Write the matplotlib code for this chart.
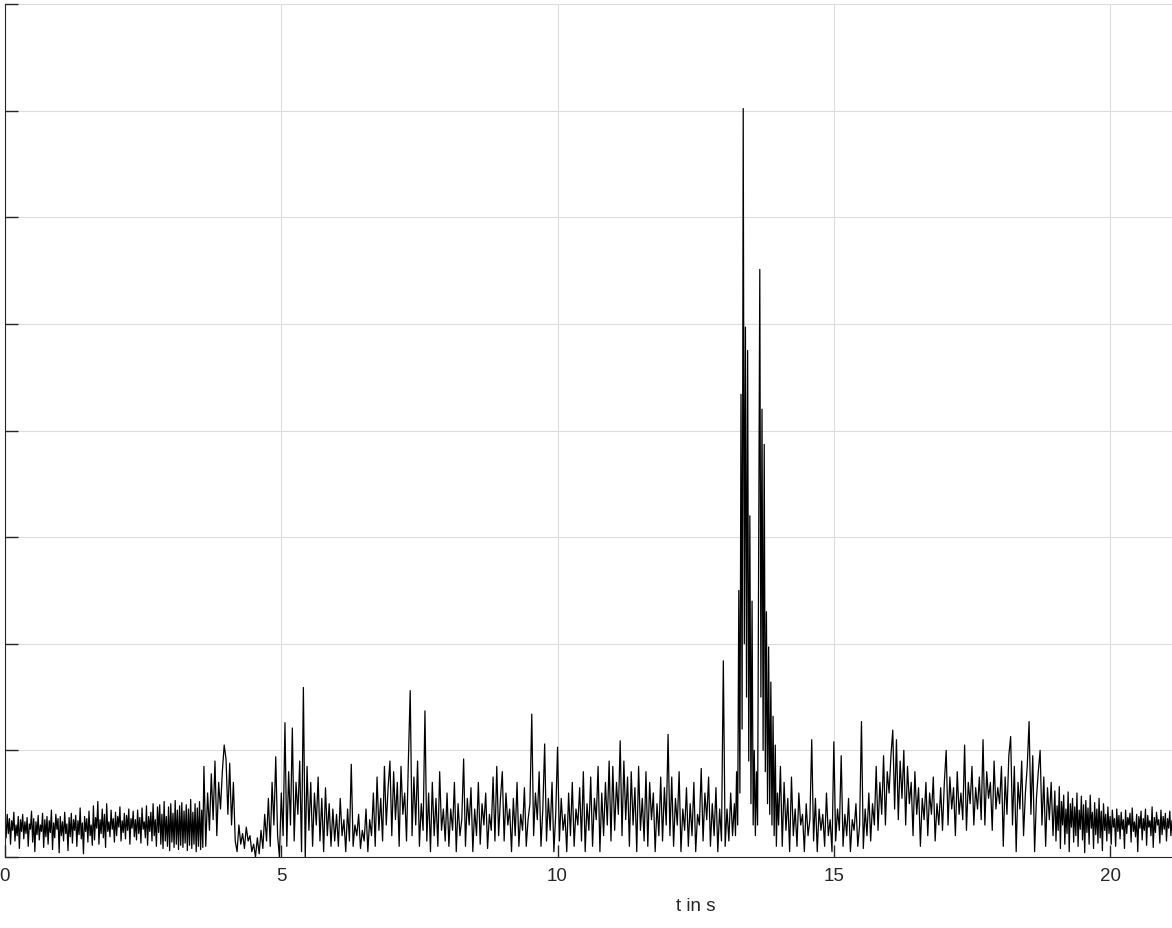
import numpy as np
import matplotlib
matplotlib.use('Agg')
import matplotlib.pyplot as plt

# signal, in five segments with their own sample step
# segment A: quiet start, 0 - 3.58 s, dt = 0.02 s
seg_a = [0.32, 0.18, 0.40, 0.22, 0.36, 0.12, 0.34, 0.25, 0.42, 0.15, 0.30, 0.20, 0.38, 0.08, 0.35, 0.24, 0.40, 0.17, 0.33, 0.22,
         0.37, 0.10, 0.31, 0.26, 0.43, 0.14, 0.36, 0.05, 0.33, 0.21, 0.39, 0.16, 0.30, 0.24, 0.41, 0.09, 0.35, 0.19, 0.38, 0.12,
         0.34, 0.23, 0.44, 0.07, 0.32, 0.18, 0.40, 0.26, 0.36, 0.04, 0.38, 0.20, 0.33, 0.15, 0.42, 0.22, 0.31, 0.06, 0.37, 0.19,
         0.41, 0.13, 0.35, 0.25, 0.39, 0.10, 0.34, 0.21, 0.46, 0.17, 0.32, 0.03, 0.38, 0.24, 0.36, 0.14, 0.43, 0.20, 0.30, 0.11,
         0.48, 0.16, 0.37, 0.27, 0.52, 0.12, 0.35, 0.22, 0.45, 0.18, 0.40, 0.09, 0.50, 0.24, 0.33, 0.19, 0.44, 0.26, 0.36, 0.14,
         0.42, 0.20, 0.38, 0.28, 0.47, 0.15, 0.34, 0.23, 0.41, 0.17, 0.39, 0.25, 0.45, 0.12, 0.36, 0.27, 0.43, 0.19, 0.35, 0.16,
         0.44, 0.22, 0.37, 0.13, 0.46, 0.26, 0.33, 0.18, 0.48, 0.11, 0.38, 0.24, 0.42, 0.15, 0.50, 0.20, 0.35, 0.10, 0.47, 0.23,
         0.49, 0.12, 0.40, 0.08, 0.52, 0.15, 0.38, 0.10, 0.47, 0.06, 0.50, 0.14, 0.41, 0.09, 0.53, 0.12, 0.44, 0.07, 0.48, 0.11,
         0.51, 0.09, 0.43, 0.13, 0.49, 0.06, 0.45, 0.11, 0.54, 0.08, 0.42, 0.12, 0.50, 0.05, 0.46, 0.10, 0.52, 0.07, 0.44, 0.09]

# segment B: 3.6 - 13.17 s, dt = 1/30 s (one list per second)
sec03_tail = [0.85, 0.10, 0.60, 0.25, 0.78, 0.35, 0.90, 0.20, 0.70, 0.45, 0.80, 1.05]
sec04 = [0.92, 0.40, 0.88, 0.30, 0.70, 0.15, 0.05, 0.30, 0.12, 0.22, 0.08, 0.28, 0.15, 0.20, 0.05,
         0.12, 0.00, 0.18, 0.03, 0.25, 0.08, 0.40, 0.15, 0.55, 0.10, 0.70, 0.30, 0.94, 0.20, 0.00]
sec05 = [0.60, 0.20, 1.26, 0.10, 0.80, 0.30, 1.21, 0.15, 0.70, 0.40, 0.90, 0.05, 1.59, 0.00, 0.85,
         0.25, 0.70, 0.10, 0.60, 0.30, 0.75, 0.15, 0.55, 0.05, 0.65, 0.20, 0.50, 0.10, 0.45, 0.15]
sec06 = [0.40, 0.10, 0.55, 0.20, 0.35, 0.05, 0.45, 0.15, 0.87, 0.10, 0.30, 0.20, 0.40, 0.08, 0.25,
         0.15, 0.45, 0.05, 0.35, 0.20, 0.60, 0.10, 0.75, 0.25, 0.55, 0.15, 0.85, 0.30, 0.65, 0.90]
sec07 = [0.20, 0.80, 0.35, 0.70, 0.10, 0.85, 0.40, 0.60, 0.15, 0.90, 1.56, 0.20, 0.75, 0.30, 0.90,
         0.10, 0.50, 0.25, 1.37, 0.15, 0.60, 0.05, 0.70, 0.20, 0.55, 0.10, 0.80, 0.25, 0.45, 0.15]
sec08 = [0.60, 0.10, 0.45, 0.25, 0.70, 0.05, 0.50, 0.20, 0.35, 0.92, 0.10, 0.55, 0.30, 0.65, 0.05,
         0.45, 0.20, 0.70, 0.12, 0.50, 0.30, 0.60, 0.08, 0.40, 0.25, 0.75, 0.15, 0.85, 0.20, 0.55]
sec09 = [0.80, 0.15, 0.60, 0.30, 0.45, 0.05, 0.55, 0.20, 0.70, 0.10, 0.40, 0.25, 0.65, 0.10, 0.35,
         0.50, 1.34, 0.20, 0.60, 0.35, 0.80, 0.10, 0.45, 1.06, 0.15, 0.55, 0.25, 0.70, 0.05, 0.40]
sec10 = [1.03, 0.15, 0.55, 0.25, 0.40, 0.05, 0.60, 0.20, 0.70, 0.10, 0.45, 0.30, 0.65, 0.15, 0.80,
         0.05, 0.50, 0.25, 0.75, 0.10, 0.55, 0.35, 0.85, 0.05, 0.60, 0.20, 0.70, 0.30, 0.90, 0.15]
sec11 = [0.85, 0.25, 0.70, 0.40, 1.09, 0.20, 0.90, 0.35, 0.75, 0.10, 0.80, 0.30, 0.65, 0.05, 0.85,
         0.25, 0.55, 0.15, 0.80, 0.10, 0.70, 0.35, 0.60, 0.05, 0.50, 0.20, 0.75, 0.15, 0.65, 0.30]
sec12 = [1.15, 0.20, 0.75, 0.10, 0.55, 0.30, 0.80, 0.05, 0.45, 0.25, 0.65, 0.10, 0.50, 0.20, 0.70,
         0.05, 0.40, 0.30, 0.83, 0.15, 0.60, 0.35, 0.75, 0.10, 0.50, 0.20, 0.65, 0.05, 0.45, 0.15]
sec13_head = [1.84, 0.10, 0.45, 0.15, 0.60, 0.20]

# segment C: the two big peaks, 13.2 - 13.98 s, dt = 0.02 s
seg_c = [0.50, 0.20, 0.80, 0.30, 2.50, 0.60, 4.34, 1.20, 7.02, 2.00, 4.97, 1.50, 4.75, 0.90, 3.20, 0.50, 2.40, 0.30, 1.00, 0.20,
         0.80, 0.30, 2.80, 5.51, 1.50, 4.20, 1.00, 3.87, 0.80, 2.30, 0.50, 1.97, 0.40, 1.64, 0.30, 1.32, 0.20, 1.05, 0.10, 0.60]

# segment D: 14.0 - 18.97 s, dt = 1/30 s
sec14 = [0.30, 0.85, 0.10, 0.70, 0.25, 0.55, 0.05, 0.75, 0.20, 0.45, 0.10, 0.60, 0.30, 0.40, 0.05,
         0.50, 0.20, 0.35, 1.10, 0.15, 0.55, 0.05, 0.45, 0.25, 0.40, 0.10, 0.60, 0.20, 0.35, 0.05]
sec15 = [1.08, 0.15, 0.45, 0.25, 0.95, 0.10, 0.40, 0.20, 0.55, 0.05, 0.35, 0.25, 0.50, 0.10, 0.30,
         1.27, 0.08, 0.45, 0.20, 0.60, 0.15, 0.50, 0.30, 0.85, 0.25, 0.70, 0.40, 0.95, 0.30, 0.80]
sec16 = [0.60, 0.95, 1.19, 0.45, 1.10, 0.35, 0.90, 0.55, 1.00, 0.30, 0.85, 0.50, 0.70, 0.20, 0.80,
         0.40, 0.65, 0.10, 0.55, 0.35, 0.70, 0.20, 0.60, 0.40, 0.75, 0.15, 0.50, 0.30, 0.65, 0.25]
sec17 = [0.70, 1.00, 0.30, 0.75, 0.45, 0.65, 0.20, 0.80, 0.40, 0.60, 0.35, 1.05, 0.25, 0.70, 0.50,
         0.85, 0.30, 0.65, 0.45, 0.75, 0.35, 1.10, 0.30, 0.80, 0.55, 0.70, 0.25, 0.90, 0.45, 0.65]
sec18 = [0.50, 0.85, 0.10, 0.75, 0.40, 0.95, 1.13, 0.30, 0.85, 0.05, 0.70, 0.45, 0.90, 0.20, 0.60,
         0.85, 1.27, 0.40, 0.95, 0.05, 0.55, 0.80, 1.00, 0.30, 0.75, 0.10, 0.65, 0.35, 0.70, 0.20]

# segment E: quiet end, 19.0 - 21.12 s, dt = 0.02 s
seg_e = [0.62, 0.15, 0.48, 0.25, 0.66, 0.08, 0.52, 0.30, 0.58, 0.12, 0.45, 0.22, 0.61, 0.05, 0.50, 0.28, 0.55, 0.14, 0.47, 0.20,
         0.60, 0.10, 0.44, 0.26, 0.57, 0.16, 0.49, 0.04, 0.53, 0.23, 0.46, 0.12, 0.58, 0.27, 0.42, 0.08, 0.51, 0.21, 0.45, 0.13,
         0.55, 0.18, 0.43, 0.06, 0.50, 0.25, 0.40, 0.15, 0.47, 0.22, 0.38, 0.12, 0.44, 0.28, 0.36, 0.10, 0.45, 0.24, 0.39, 0.17,
         0.42, 0.26, 0.35, 0.08, 0.44, 0.22, 0.37, 0.30, 0.41, 0.14, 0.46, 0.24, 0.33, 0.19, 0.40, 0.05, 0.38, 0.27, 0.43, 0.16,
         0.36, 0.25, 0.45, 0.11, 0.39, 0.28, 0.34, 0.20, 0.47, 0.09, 0.37, 0.23, 0.42, 0.30, 0.35, 0.13, 0.44, 0.21, 0.38, 0.26,
         0.41, 0.15, 0.36, 0.27, 0.43, 0.20, 0.34]

seg_b = sec03_tail + sec04 + sec05 + sec06 + sec07 + sec08 + sec09 + sec10 + sec11 + sec12 + sec13_head
seg_d = sec14 + sec15 + sec16 + sec17 + sec18
segments = [seg_a, seg_b, seg_c, seg_d, seg_e]
seg_start = [0.0, 3.6, 13.2, 14.0, 19.0]
seg_dt = [0.02, 1 / 30, 0.02, 1 / 30, 0.02]

x_ticks = [0, 5, 10, 15, 20]
x_max = 21.12
y_ticks = [0, 1, 2, 3, 4, 5, 6, 7, 8]

t = np.concatenate([s0 + np.arange(len(seg)) * d for seg, s0, d in zip(segments, seg_start, seg_dt)])
signal = np.concatenate([np.array(seg) for seg in segments])

plt.rcParams['font.family'] = ['Liberation Sans', 'DejaVu Sans']

fig = plt.figure(figsize=(11.72, 9.29), dpi=100)
ax = fig.add_axes([5 / 1172, 71 / 929, 1167 / 1172, 853 / 929])

ax.plot(t, signal, color='black', linewidth=0.9)

ax.set_xlim(0, x_max)
ax.set_ylim(y_ticks[0], y_ticks[-1])
ax.set_xticks(x_ticks)
ax.set_yticks(y_ticks)
ax.set_yticklabels([])
ax.grid(True, color='#dcdcdc', linewidth=0.8)
ax.set_axisbelow(True)

ax.spines['top'].set_visible(False)
ax.spines['right'].set_visible(False)
ax.spines['left'].set_color('#262626')
ax.spines['bottom'].set_color('#262626')
ax.tick_params(axis='both', direction='in', length=9, width=1.0, colors='#262626',
               labelsize=13.5, pad=7)

ax.set_xlabel('t in s', fontsize=13.5, color='#262626')
ax.xaxis.set_label_coords((696 - 5) / 1167, -0.047)

fig.savefig('out.png', dpi=100)
